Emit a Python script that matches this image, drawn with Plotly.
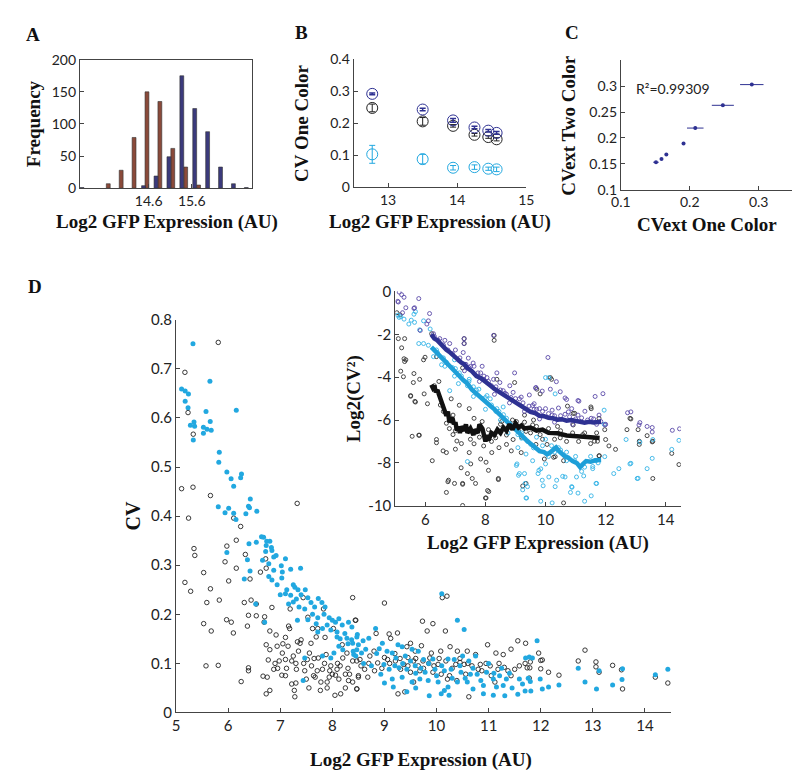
import plotly.graph_objects as go

# ---------------- Panel A: histogram (bin centres, counts) ----------------
A_brown_x = [13.66, 13.96, 14.26, 14.56, 14.86, 15.16, 15.46, 15.76]
A_brown_n = [7, 28, 79, 150, 135, 62, 33, 5]
A_blue_x = [13.05, 14.48, 14.77, 15.07, 15.37, 15.67, 15.97, 16.27, 16.57, 16.87]
A_blue_n = [1, 4, 19, 49, 175, 124, 88, 33, 7, 1]

# ---------------- Panel B: CV one color ----------------
B_x = [12.77, 13.50, 13.94, 14.25, 14.45, 14.57]
B_blue = [0.292, 0.243, 0.209, 0.187, 0.177, 0.170]
B_blue_err = [0.003, 0.004, 0.006, 0.004, 0.004, 0.004]
B_black = [0.248, 0.206, 0.192, 0.164, 0.157, 0.150]
B_black_err = [0.012, 0.012, 0.004, 0.004, 0.004, 0.005]
B_cyan = [0.103, 0.088, 0.061, 0.063, 0.058, 0.056]
B_cyan_err = [0.028, 0.015, 0.007, 0.007, 0.005, 0.007]

# ---------------- Panel C: CVext two color vs one color ----------------
C_x = [0.151, 0.159, 0.166, 0.191, 0.208, 0.248, 0.290]
C_y = [0.153, 0.159, 0.168, 0.189, 0.219, 0.263, 0.303]
C_xerr = [0.004, 0.002, 0.001, 0.001, 0.012, 0.016, 0.017]
C_yerr = [0.002, 0.001, 0.001, 0.001, 0.003, 0.003, 0.001]

# ---------------- Panel D main: CV vs expression ----------------
D_cyan = [
    (5.325, 0.751), (5.65, 0.675), (5.106, 0.659), (5.175, 0.655), (5.238, 0.649), (5.175, 0.634),
    (5.23, 0.621), (6.156, 0.616), (5.575, 0.613), (5.344, 0.592), (5.656, 0.593), (5.275, 0.585),
    (5.356, 0.583), (5.525, 0.581), (5.594, 0.577), (5.675, 0.575), (5.525, 0.569), (5.331, 0.555),
    (5.83, 0.530), (5.82, 0.510), (5.975, 0.490), (6.056, 0.476), (6.256, 0.486), (6.24, 0.478),
    (6.106, 0.461), (6.425, 0.435), (5.81, 0.419), (6.01, 0.416), (6.39, 0.420), (6.41, 0.417),
    (6.55, 0.410), (5.94, 0.407), (6.106, 0.406), (6.34, 0.405), (6.15, 0.393), (6.64, 0.358),
    (6.68, 0.357), (6.74, 0.349), (6.80, 0.349), (6.54, 0.347), (6.40, 0.344), (6.73, 0.340),
    (6.83, 0.336), (5.975, 0.326),
    (6.31, 0.272), (6.42, 0.288), (6.37, 0.311), (6.66, 0.310), (6.72, 0.328), (6.84, 0.330),
    (6.875, 0.317), (6.92, 0.320), (6.78, 0.303), (6.875, 0.290), (7.02, 0.299), (7.10, 0.313),
    (6.78, 0.277), (6.84, 0.270), (6.94, 0.260), (7.03, 0.274), (7.04, 0.286), (7.20, 0.292),
    (7.39, 0.294), (7.125, 0.250), (7.25, 0.260), (7.28, 0.255), (7.34, 0.250), (7.20, 0.239),
    (7.00, 0.240), (7.10, 0.242), (7.25, 0.225), (7.31, 0.231), (7.40, 0.240), (7.48, 0.250),
    (7.53, 0.234), (7.59, 0.224), (7.66, 0.215), (7.73, 0.232), (7.80, 0.224), (7.86, 0.215),
    (7.36, 0.215), (7.47, 0.211), (7.62, 0.200), (7.72, 0.193), (7.84, 0.200), (7.94, 0.193),
    (8.00, 0.188), (8.06, 0.184), (8.125, 0.191), (8.19, 0.178), (7.90, 0.178), (7.81, 0.171),
    (7.97, 0.168), (8.09, 0.164), (8.24, 0.161), (8.31, 0.184), (8.375, 0.174), (8.47, 0.154),
    (8.28, 0.151), (8.39, 0.141), (8.50, 0.138), (8.125, 0.135), (7.33, 0.188), (7.53, 0.189),
    (7.69, 0.181), (8.09, 0.154), (8.20, 0.128), (8.40, 0.125), (8.03, 0.121), (7.81, 0.115),
    (7.97, 0.111), (7.47, 0.111), (7.44, 0.065), (6.53, 0.221), (6.70, 0.184), (7.16, 0.221),
    (7.72, 0.164),
    (10.1, 0.242), (10.4, 0.188), (10.53, 0.169), (11.93, 0.146), (8.83, 0.171), (8.48, 0.159),
    (8.37, 0.148), (8.59, 0.146), (8.70, 0.151), (8.96, 0.141), (8.47, 0.128), (8.64, 0.129),
    (8.41, 0.118), (8.56, 0.121), (9.26, 0.138), (9.34, 0.134), (9.53, 0.129), (9.65, 0.125),
    (9.15, 0.121), (9.22, 0.111), (9.40, 0.115), (9.75, 0.108), (9.93, 0.109), (10.22, 0.109),
    (10.34, 0.108), (10.50, 0.115), (10.62, 0.105), (10.75, 0.115), (8.99, 0.098), (9.09, 0.088),
    (8.93, 0.078), (9.28, 0.091), (9.43, 0.088), (9.59, 0.095), (9.78, 0.082), (9.97, 0.088),
    (10.15, 0.085), (10.28, 0.088), (10.47, 0.082), (10.65, 0.078), (10.78, 0.078), (10.96, 0.082),
    (11.09, 0.068), (11.21, 0.075), (11.34, 0.068), (9.15, 0.068), (9.34, 0.072), (9.53, 0.062),
    (9.68, 0.068), (9.84, 0.065), (10.03, 0.062), (10.22, 0.052), (10.40, 0.062), (10.59, 0.062),
    (10.90, 0.055), (11.15, 0.052), (11.28, 0.055), (11.65, 0.058), (11.76, 0.070), (11.59, 0.068),
    (11.84, 0.111), (11.71, 0.111), (11.99, 0.068), (12.03, 0.048), (9.17, 0.052), (9.43, 0.042),
    (9.86, 0.034), (10.09, 0.038), (10.24, 0.035), (10.90, 0.038), (11.09, 0.035), (11.31, 0.034),
    (11.56, 0.037), (11.81, 0.044),
    (11.78, 0.113), (11.80, 0.063), (11.70, 0.044), (12.15, 0.052), (12.35, 0.056), (12.72, 0.090),
    (12.85, 0.062), (13.07, 0.048), (13.12, 0.085), (13.38, 0.056), (13.57, 0.089), (13.56, 0.067),
    (14.20, 0.077), (14.44, 0.088),
    (8.60, 0.100), (8.75, 0.095), (8.85, 0.120), (9.05, 0.125), (9.20, 0.095), (9.35, 0.100),
    (9.50, 0.105), (9.60, 0.080), (9.70, 0.090), (9.85, 0.100), (10.00, 0.075), (10.10, 0.095),
    (10.30, 0.070), (10.45, 0.095), (10.55, 0.070), (10.70, 0.090), (10.85, 0.065), (11.00, 0.100),
    (11.10, 0.080), (11.25, 0.090), (11.40, 0.080), (9.00, 0.060), (9.60, 0.050), (10.15, 0.045),
    (10.70, 0.048), (11.45, 0.050), (8.90, 0.130), (8.30, 0.140), (8.45, 0.115), (8.15, 0.150),
]

D_black = [
    (5.81, 0.754), (5.17, 0.693), (5.23, 0.611), (5.33, 0.567), (5.106, 0.456), (5.325, 0.459),
    (5.66, 0.442), (7.325, 0.426), (5.24, 0.396), (6.106, 0.396), (6.24, 0.379), (6.156, 0.351),
    (5.344, 0.334), (5.975, 0.339),
    (5.36, 0.320), (5.17, 0.265), (5.28, 0.247), (5.53, 0.285), (5.66, 0.252), (5.59, 0.224),
    (5.83, 0.229), (5.53, 0.181), (5.675, 0.166), (5.575, 0.095), (5.81, 0.096), (5.94, 0.307),
    (6.01, 0.268), (6.156, 0.294), (5.97, 0.189), (6.06, 0.184), (6.10, 0.162), (6.25, 0.063),
    (6.31, 0.224), (6.39, 0.198), (6.37, 0.176), (6.44, 0.229), (6.33, 0.322), (6.42, 0.272),
    (6.39, 0.091), (6.39, 0.085), (6.54, 0.221), (6.54, 0.197), (6.62, 0.286), (6.72, 0.313),
    (6.73, 0.294), (6.69, 0.184), (6.70, 0.195), (6.80, 0.166), (6.84, 0.214), (6.73, 0.138),
    (6.80, 0.128), (6.77, 0.107), (6.67, 0.074), (6.75, 0.072), (6.73, 0.038), (6.80, 0.045),
    (6.875, 0.088), (6.92, 0.158), (6.94, 0.135), (6.98, 0.105), (7.04, 0.121), (7.03, 0.076),
    (7.10, 0.153), (7.10, 0.108), (7.16, 0.176), (7.18, 0.171), (7.19, 0.211), (7.22, 0.105),
    (7.25, 0.115), (7.28, 0.032), (7.27, 0.045), (7.22, 0.058), (7.31, 0.088), (7.33, 0.144),
    (7.38, 0.141), (7.40, 0.148), (7.44, 0.234), (7.47, 0.085), (7.50, 0.068), (7.52, 0.108),
    (7.53, 0.194), (7.56, 0.121), (7.59, 0.141), (7.62, 0.171), (7.64, 0.075), (7.67, 0.072),
    (7.69, 0.154), (7.71, 0.085), (7.73, 0.111), (7.77, 0.045), (7.78, 0.062), (7.81, 0.088),
    (7.83, 0.211), (7.86, 0.153), (7.88, 0.118), (7.90, 0.062), (7.94, 0.072), (7.97, 0.095),
    (8.02, 0.171), (8.05, 0.035), (8.06, 0.076), (8.09, 0.088), (8.125, 0.068), (8.16, 0.038),
    (8.20, 0.111), (8.25, 0.078), (8.28, 0.121), (8.31, 0.065), (8.33, 0.078), (8.39, 0.234),
    (8.44, 0.188), (8.47, 0.048), (8.50, 0.072), (8.39, 0.105), (8.47, 0.105), (8.19, 0.138),
    (7.72, 0.171), (7.12, 0.090), (7.30, 0.100), (7.15, 0.135), (6.95, 0.090), (7.60, 0.095),
    (7.95, 0.085), (8.10, 0.100),
    (9.00, 0.223), (9.73, 0.186), (9.93, 0.181), (9.82, 0.166), (10.17, 0.166),
    (10.11, 0.234), (10.20, 0.237), (8.45, 0.188), (8.84, 0.161), (9.09, 0.160), (9.25, 0.162),
    (9.12, 0.151), (9.50, 0.141), (9.43, 0.134), (9.59, 0.125), (9.71, 0.136), (9.90, 0.121),
    (10.08, 0.125), (10.26, 0.134), (10.40, 0.125), (10.59, 0.125), (10.75, 0.118), (10.98, 0.138),
    (11.14, 0.121), (11.28, 0.118), (11.56, 0.146), (11.71, 0.141), (11.96, 0.121), (12.03, 0.107),
    (11.43, 0.129), (8.53, 0.108), (8.72, 0.115), (8.87, 0.101), (9.06, 0.108), (9.21, 0.105),
    (9.37, 0.098), (9.56, 0.105), (9.74, 0.105), (9.87, 0.111), (10.03, 0.098), (10.18, 0.105),
    (10.37, 0.098), (10.53, 0.098), (10.68, 0.095), (10.84, 0.098), (11.03, 0.095), (11.18, 0.088),
    (11.37, 0.085), (11.59, 0.095), (11.74, 0.091), (8.62, 0.088), (8.81, 0.085), (9.31, 0.088),
    (9.50, 0.082), (9.68, 0.085), (9.93, 0.082), (10.09, 0.078), (10.25, 0.075), (10.56, 0.078),
    (10.87, 0.085), (11.43, 0.075), (8.50, 0.075), (8.68, 0.072), (8.47, 0.048), (9.56, 0.062),
    (10.21, 0.068), (10.39, 0.065), (11.12, 0.062), (9.26, 0.038), (9.39, 0.042), (10.62, 0.032),
    (8.39, 0.062), (9.00, 0.112), (9.45, 0.112), (9.65, 0.095), (10.45, 0.102),
    (12.00, 0.106), (12.00, 0.089), (12.15, 0.082), (12.35, 0.076), (12.72, 0.105), (12.85, 0.127),
    (13.06, 0.103), (13.06, 0.093), (13.12, 0.082), (13.38, 0.096), (13.55, 0.087), (13.57, 0.048),
    (14.20, 0.072), (14.44, 0.060), (11.80, 0.103), (11.70, 0.100), (11.79, 0.091), (11.78, 0.070),
    (8.55, 0.095), (8.70, 0.100), (8.80, 0.125), (8.95, 0.090), (9.10, 0.100), (9.20, 0.120),
    (9.30, 0.110), (9.45, 0.095), (9.60, 0.110), (9.75, 0.090), (9.85, 0.100), (9.95, 0.095),
    (10.05, 0.110), (10.30, 0.090), (10.45, 0.110), (10.60, 0.100), (10.80, 0.088), (10.95, 0.100),
    (11.05, 0.075), (11.20, 0.100), (11.30, 0.092), (11.50, 0.088), (7.35, 0.125), (7.45, 0.100),
    (7.65, 0.110), (7.85, 0.100), (8.00, 0.078), (8.15, 0.095), (8.30, 0.090), (7.10, 0.075),
    (7.30, 0.060), (7.55, 0.050), (7.90, 0.050), (8.25, 0.050), (6.90, 0.100), (7.05, 0.140),
]

# ---------------- Panel D inset: log2(CV^2) ----------------
I_blue = [
    (5.13, -0.03), (5.21, -0.15), (5.29, -0.27), (5.10, -0.49), (5.35, -0.76), (5.24, -0.99),
    (5.78, -0.33), (5.64, -0.76), (6.14, -1.03), (6.05, -1.52), (5.83, -1.82), (6.27, -1.97),
    (6.48, -2.20), (6.65, -2.28), (6.81, -2.43), (7.29, -2.20), (7.29, -2.43), (7.00, -2.73),
    (7.26, -2.85), (7.43, -3.11), (7.59, -3.34), (7.89, -3.49), (7.84, -3.80), (7.94, -4.10),
    (8.38, -3.80), (8.27, -4.10), (8.97, -3.80), (8.81, -4.40), (8.59, -4.63), (9.19, -4.93),
    (9.46, -4.83), (9.68, -4.48), (9.62, -5.24), (9.80, -5.47), (8.27, -2.05), (5.08, -0.46),
    (5.62, -0.79), (6.10, -1.37), (8.92, -4.71), (8.48, -4.25), (8.05, -4.02), (7.62, -3.49),
    (6.75, -2.73), (6.43, -2.28), (9.13, -5.01), (9.57, -5.32), (10.0, -5.47), (7.10, -3.20),
    (7.45, -3.55), (8.20, -4.40), (8.70, -4.80),
    (10.08, -3.08), (10.36, -4.21), (9.67, -4.51), (9.89, -4.65), (10.16, -4.56), (10.49, -4.68),
    (10.70, -5.04), (11.11, -5.12), (11.65, -4.90), (11.91, -4.77), (9.62, -5.50), (10.22, -5.54),
    (10.76, -5.62), (11.31, -5.59), (11.78, -5.77), (12.73, -5.66), (12.84, -5.62), (13.14, -6.12),
    (13.11, -6.23), (13.38, -6.30), (13.55, -6.35), (13.55, -6.56), (14.22, -6.48), (14.46, -6.41),
    (12.00, -6.20), (10.43, -5.44), (10.87, -5.47), (10.22, -5.77), (10.65, -5.73), (11.08, -5.77),
    (11.52, -5.92), (11.84, -6.07), (11.98, -6.23), (10.65, -4.97), (11.08, -5.09),
    (6.30, -2.10), (6.60, -2.50), (6.90, -2.90), (7.15, -3.10), (7.35, -3.40), (7.50, -3.50),
    (7.75, -3.80), (7.95, -3.95), (8.10, -4.20), (8.35, -4.45), (8.50, -4.60), (8.65, -4.75),
    (8.85, -4.95), (9.00, -5.00), (9.25, -5.20), (9.45, -5.35), (9.70, -5.50), (9.90, -5.60),
    (10.10, -5.70), (10.30, -5.80), (10.50, -5.80), (10.80, -5.85), (11.00, -5.95), (11.20, -5.90),
    (11.40, -6.00), (11.60, -5.95), (11.70, -6.20), (10.90, -6.20), (10.30, -6.10), (9.80, -5.95),
    (9.30, -5.60), (8.80, -5.20), (8.30, -4.80), (7.80, -4.20), (7.30, -3.70),
]

I_cyan = [
    (5.08, -1.11), (5.18, -1.17), (5.29, -1.29), (5.53, -1.34), (5.64, -1.44), (5.45, -1.52),
    (5.81, -1.79), (5.94, -2.43), (6.10, -2.51), (6.37, -2.73), (6.97, -3.19), (6.65, -3.49),
    (7.13, -3.80), (7.46, -4.10), (7.78, -4.56), (8.16, -5.01), (8.38, -5.47), (8.70, -5.92),
    (8.75, -6.61), (9.08, -6.68), (9.10, -8.58), (9.03, -8.12), (9.30, -8.50), (9.32, -8.96),
    (9.40, -9.11), (9.37, -9.64), (7.40, -7.94), (9.84, -8.28), (6.81, -4.63), (9.51, -7.14),
    (5.67, -0.94), (5.13, -1.21), (5.62, -1.06), (5.94, -1.37), (6.16, -1.75), (5.78, -2.43),
    (6.27, -3.04), (6.97, -3.95), (6.54, -3.42), (7.40, -4.40), (8.05, -4.86), (8.59, -5.39),
    (9.08, -7.29), (9.05, -8.05), (9.13, -8.50), (9.24, -9.26), (9.35, -9.64), (9.84, -9.79),
    (10.22, -9.87), (9.89, -8.81), (10.11, -8.66), (10.32, -9.11), (10.65, -8.66), (10.87, -9.11),
    (11.08, -9.41), (11.30, -9.79), (11.52, -9.54), (11.68, -8.96), (10.00, -4.02), (10.11, -4.02),
    (11.95, -5.54), (11.97, -7.71), (12.27, -8.50), (12.44, -8.27), (12.81, -8.05), (13.05, -8.73),
    (13.38, -8.27), (13.55, -7.79), (13.57, -6.91), (14.20, -7.37), (14.44, -6.95), (12.68, -6.91),
    (11.95, -6.20), (10.43, -7.29), (10.97, -7.90), (9.57, -7.90), (9.78, -8.35), (10.00, -8.05),
    (9.35, -7.59), (11.30, -8.20), (11.57, -8.27), (10.32, -4.78), (13.14, -7.03), (12.84, -8.02),
    (13.08, -8.72), (11.70, -8.96), (10.88, -9.14), (10.83, -9.38), (9.92, -9.07), (10.37, -8.81),
    (10.57, -8.63), (11.03, -8.66), (11.27, -8.61), (9.75, -8.50), (11.57, -8.17), (11.68, -7.90),
    (6.60, -3.10), (7.00, -3.60), (7.60, -4.45), (8.00, -4.95), (8.45, -5.60), (8.90, -6.30),
    (9.20, -6.60), (9.60, -7.30), (10.20, -7.20), (10.70, -7.50),
    (6.40, -2.85), (6.70, -3.30), (6.90, -3.55), (7.20, -3.95), (7.45, -4.20), (7.70, -4.60),
    (7.90, -5.00), (8.20, -5.30), (8.35, -5.60), (8.60, -5.75), (8.80, -6.15), (9.00, -6.40),
    (9.20, -6.85), (9.40, -7.00), (9.60, -7.20), (9.90, -7.20), (10.10, -7.70), (10.30, -7.50),
    (10.50, -7.40), (10.70, -7.90), (11.00, -7.70), (11.20, -8.40), (11.50, -7.70), (11.75, -8.00),
    (10.00, -6.90), (9.70, -6.80), (8.50, -6.00), (8.00, -5.50), (7.60, -4.90), (7.10, -4.30),
]

I_black = [
    (5.05, -0.99), (5.16, -1.09), (5.10, -2.20), (5.31, -2.20), (5.21, -2.63), (5.29, -3.14),
    (5.31, -3.27), (5.18, -3.72), (5.27, -3.98), (5.51, -4.89), (5.65, -5.13), (5.78, -6.71),
    (5.56, -6.76), (5.60, -4.25), (5.62, -3.83), (5.81, -4.10), (5.96, -4.78), (6.07, -5.24),
    (5.94, -3.19), (5.99, -3.07), (6.21, -1.97), (6.37, -3.04), (6.23, -7.90), (6.37, -6.91),
    (6.37, -7.06), (6.59, -7.44), (6.70, -7.52), (6.77, -8.81), (6.70, -9.38), (6.92, -6.68),
    (7.05, -6.98), (7.00, -7.36), (7.19, -8.23), (7.24, -8.96), (7.40, -8.50), (7.46, -7.52),
    (7.51, -8.05), (7.56, -8.73), (7.67, -8.96), (7.62, -7.11), (7.84, -7.82), (7.94, -7.21),
    (8.02, -7.97), (8.10, -8.35), (8.07, -9.29), (8.02, -9.64), (8.21, -7.52), (8.43, -8.73),
    (8.34, -6.83), (8.45, -7.29), (8.70, -7.14), (8.86, -7.44), (8.92, -6.91), (7.24, -9.99),
    (6.70, -6.15), (6.92, -5.77), (7.13, -5.31), (6.86, -5.01), (7.46, -5.47), (7.62, -5.92),
    (7.89, -6.07), (8.10, -6.45), (7.24, -3.57), (8.38, -4.10), (8.54, -6.07), (9.03, -6.07),
    (9.30, -5.77), (9.57, -6.23), (9.71, -4.56), (9.68, -7.14), (9.19, -7.52), (9.35, -6.53),
    (9.82, -6.68), (5.35, -3.19), (5.51, -4.86), (5.67, -5.16), (5.80, -6.71), (6.75, -8.88),
    (6.97, -8.96), (7.24, -9.00), (8.00, -9.64), (8.11, -9.34), (8.43, -8.78), (9.24, -9.08),
    (9.35, -8.96), (10.60, -9.87), (10.32, -7.71), (10.16, -4.02), (10.20, -4.10), (8.97, -4.25),
    (8.29, -2.05), (8.29, -2.28), (7.29, -2.20), (7.29, -2.43), (10.97, -5.69), (11.52, -5.47),
    (11.73, -6.99), (11.79, -7.67), (11.97, -6.45), (12.00, -6.91), (12.11, -7.21), (12.33, -7.37),
    (12.71, -6.45), (12.81, -5.92), (13.08, -6.45), (13.12, -7.14), (13.12, -6.99), (13.57, -6.99),
    (13.57, -8.73), (14.20, -7.56), (14.44, -8.08), (9.82, -4.78), (10.73, -5.35), (10.92, -5.69),
    (11.51, -5.39), (11.78, -5.92), (12.84, -5.95), (13.38, -6.73), (13.55, -7.02), (10.92, -6.23),
    (11.24, -6.68), (11.63, -6.99), (10.49, -6.83), (10.05, -7.14), (10.27, -7.74), (9.96, -7.82),
    (10.60, -7.90), (11.78, -7.67),
    (8.50, -6.20), (8.70, -6.70), (8.90, -6.00), (9.10, -6.50), (9.30, -6.10), (9.50, -6.60),
    (9.70, -6.30), (9.90, -6.90), (10.10, -6.40), (10.30, -6.90), (10.50, -6.50), (10.70, -7.00),
    (10.90, -6.60), (11.10, -7.00), (11.30, -6.60), (11.50, -7.10), (11.70, -6.60), (8.20, -7.00),
    (7.80, -6.80), (7.50, -6.90), (7.20, -7.10), (7.00, -6.50), (6.80, -6.40), (6.60, -5.60),
    (6.50, -5.30), (6.30, -4.40), (6.45, -4.20), (9.20, -6.80), (9.60, -6.00), (10.40, -6.30),
]

L_blue_x = [6.2, 6.3, 6.4, 6.5, 6.6, 6.7, 6.8, 6.95, 7.1, 7.2, 7.3, 7.4, 7.55, 7.7, 7.85, 8.0, 8.15,
            8.3, 8.45, 8.6, 8.75, 8.9, 9.05, 9.2, 9.35, 9.5, 9.65, 9.8, 9.95, 10.1, 10.25, 10.4,
            10.55, 10.7, 10.85, 11.0, 11.15, 11.3, 11.45, 11.6, 11.85]
L_blue_y = [-2.0, -2.2, -2.28, -2.45, -2.55, -2.72, -2.82, -3.02, -3.15, -3.32, -3.4, -3.58, -3.72,
            -3.95, -4.05, -4.25, -4.38, -4.55, -4.68, -4.85, -4.95, -5.12, -5.2, -5.38, -5.45,
            -5.62, -5.68, -5.8, -5.82, -5.9, -5.92, -5.98, -5.96, -6.03, -6.0, -6.06, -6.08, -6.12,
            -6.08, -6.12, -6.08]
L_cyan_x = [6.2, 6.3, 6.4, 6.5, 6.65, 6.8, 6.95, 7.1, 7.25, 7.4, 7.55, 7.7, 7.85, 8.0, 8.15, 8.3,
            8.45, 8.6, 8.75, 8.9, 9.05, 9.2, 9.35, 9.5, 9.65, 9.8, 9.95, 10.05, 10.15, 10.25, 10.35,
            10.45, 10.55, 10.65, 10.75, 10.9, 11.05, 11.15, 11.25, 11.35, 11.5, 11.65, 11.85]
L_cyan_y = [-2.6, -2.75, -2.9, -3.05, -3.3, -3.5, -3.72, -3.9, -4.12, -4.3, -4.58, -4.75, -4.98, -5.15,
            -5.32, -5.5, -5.72, -5.9, -6.12, -6.3, -6.52, -6.7, -6.92, -7.1, -7.3, -7.45, -7.5,
            -7.6, -7.52, -7.38, -7.28, -7.45, -7.58, -7.7, -7.75, -7.92, -8.02, -8.2, -8.05, -7.92,
            -7.95, -7.88, -7.87]
L_black_x = [6.2, 6.25, 6.3, 6.35, 6.4, 6.5, 6.6, 6.7, 6.75, 6.8, 6.9, 6.95, 7.0, 7.05, 7.1, 7.15,
             7.2, 7.3, 7.35, 7.4, 7.5, 7.6, 7.65, 7.75, 7.8, 7.9, 8.0, 8.05, 8.1, 8.2, 8.3, 8.4,
             8.5, 8.6, 8.7, 8.8, 8.9, 9.0, 9.1, 9.2, 9.3, 9.5, 9.7, 9.9, 10.1, 10.4, 10.7, 11.0,
             11.3, 11.6, 11.8]
L_black_y = [-4.35, -4.5, -4.4, -4.7, -4.6, -5.0, -5.3, -5.8, -5.6, -6.1, -5.9, -6.2, -6.1, -6.5,
             -6.3, -6.6, -6.3, -6.5, -6.2, -6.6, -6.4, -6.7, -6.45, -6.6, -6.2, -6.4, -7.0, -6.7,
             -6.95, -6.6, -6.7, -6.45, -6.6, -6.35, -6.5, -6.2, -6.45, -6.15, -6.35, -6.25, -6.4,
             -6.35, -6.5, -6.45, -6.6, -6.62, -6.72, -6.76, -6.83, -6.82, -6.84]

# ---------------- colours ----------------
BROWN = '#8a4a3a'
NAVY = '#3b3a7c'
CYAN = '#22a8e0'
DBLUE = '#2e3192'
PURPLE = '#5a4aa8'
BLACK = '#222222'

W, H = 800, 775


def xd(a, b):
    return [a / W, b / W]


def yd(top, bottom):
    return [1 - bottom / H, 1 - top / H]


def xs(pts):
    return [p[0] for p in pts]


def ys(pts):
    return [p[1] for p in pts]


fig = go.Figure()

# Panel A
fig.add_trace(go.Bar(x=A_brown_x, y=A_brown_n, width=0.09,
                     marker=dict(color=BROWN, line=dict(color='#333', width=0.6)), xaxis='x', yaxis='y'))
fig.add_trace(go.Bar(x=A_blue_x, y=A_blue_n, width=0.09,
                     marker=dict(color=NAVY, line=dict(color='#333', width=0.6)), xaxis='x', yaxis='y'))

# Panel B
fig.add_trace(go.Scatter(x=B_x, y=B_black, mode='markers', xaxis='x2', yaxis='y2',
                         marker=dict(symbol='circle-open', size=11, color=BLACK, line=dict(width=1)),
                         error_y=dict(type='data', array=B_black_err, color=BLACK, thickness=1, width=3)))
fig.add_trace(go.Scatter(x=B_x, y=B_blue, mode='markers', xaxis='x2', yaxis='y2',
                         marker=dict(symbol='circle-open', size=11, color=DBLUE, line=dict(width=1)),
                         error_y=dict(type='data', array=B_blue_err, color=DBLUE, thickness=1.5, width=3)))
fig.add_trace(go.Scatter(x=B_x, y=B_cyan, mode='markers', xaxis='x2', yaxis='y2',
                         marker=dict(symbol='circle-open', size=11, color=CYAN, line=dict(width=1)),
                         error_y=dict(type='data', array=B_cyan_err, color=CYAN, thickness=1, width=3)))

# Panel C
fig.add_trace(go.Scatter(x=C_x, y=C_y, mode='markers', xaxis='x3', yaxis='y3',
                         marker=dict(size=4, color=DBLUE),
                         error_x=dict(type='data', array=C_xerr, color=DBLUE, thickness=1, width=0),
                         error_y=dict(type='data', array=C_yerr, color=DBLUE, thickness=1, width=0)))

# Panel D main
fig.add_trace(go.Scatter(x=xs(D_black), y=ys(D_black), mode='markers', xaxis='x4', yaxis='y4',
                         marker=dict(symbol='circle-open', size=4.5, color=BLACK, line=dict(width=0.9))))
fig.add_trace(go.Scatter(x=xs(D_cyan), y=ys(D_cyan), mode='markers', xaxis='x4', yaxis='y4',
                         marker=dict(symbol='circle', size=5, color=CYAN)))

# Inset
fig.add_trace(go.Scatter(x=xs(I_black), y=ys(I_black), mode='markers', xaxis='x5', yaxis='y5',
                         marker=dict(symbol='circle-open', size=4, color='#333', line=dict(width=0.9))))
fig.add_trace(go.Scatter(x=xs(I_cyan), y=ys(I_cyan), mode='markers', xaxis='x5', yaxis='y5',
                         marker=dict(symbol='circle-open', size=4, color='#33b3e6', line=dict(width=0.9))))
fig.add_trace(go.Scatter(x=xs(I_blue), y=ys(I_blue), mode='markers', xaxis='x5', yaxis='y5',
                         marker=dict(symbol='circle-open', size=4, color=PURPLE, line=dict(width=0.9))))
fig.add_trace(go.Scatter(x=L_blue_x, y=L_blue_y, mode='lines', xaxis='x5', yaxis='y5',
                         line=dict(color=DBLUE, width=4.5)))
fig.add_trace(go.Scatter(x=L_cyan_x, y=L_cyan_y, mode='lines', xaxis='x5', yaxis='y5',
                         line=dict(color='#1e9fd8', width=4.5)))
fig.add_trace(go.Scatter(x=L_black_x, y=L_black_y, mode='lines', xaxis='x5', yaxis='y5',
                         line=dict(color='#111111', width=4.5)))

TICKF = dict(family='Lato, Open Sans, sans-serif', size=14, color='#222')
TICKF_D = dict(family='Lato, Open Sans, sans-serif', size=15, color='#222')


def ax(domain, rng, tickvals, ticktext, anchor, font=TICKF, mirror=False):
    return dict(domain=domain, range=rng, tickvals=tickvals, ticktext=ticktext, showline=True,
                linecolor='#444', linewidth=1, ticks='inside', ticklen=4, tickcolor='#444',
                showgrid=False, zeroline=False, tickfont=font, anchor=anchor, mirror=mirror,
                fixedrange=True)


def fmt(vals):
    return ['%g' % v for v in vals]


xA = [14.6, 15.6]
yA = [0, 50, 100, 150, 200]
xB = [13, 14, 15]
yB = [0, 0.1, 0.2, 0.3, 0.4]
xC = [0.1, 0.2, 0.3]
yC = [0.1, 0.15, 0.2, 0.25, 0.3]
xD = [5, 6, 7, 8, 9, 10, 11, 12, 13, 14]
yD = [0, 0.1, 0.2, 0.3, 0.4, 0.5, 0.6, 0.7, 0.8]
xI = [6, 8, 10, 12, 14]
yI = [-10, -8, -6, -4, -2, 0]

fig.update_layout(
    width=W, height=H, margin=dict(l=0, r=0, t=0, b=0),
    paper_bgcolor='white', plot_bgcolor='rgba(0,0,0,0)', showlegend=False, barmode='overlay',
    xaxis=ax(xd(63.3, 239.3), [13, 17], xA, fmt(xA), 'y', mirror=True),
    yaxis=ax(yd(42.7, 174.3), [0, 200], yA, fmt(yA), 'x', mirror=True),
    xaxis2=ax(xd(343.3, 520), [12.5, 15], xB, fmt(xB), 'y2'),
    yaxis2=ax(yd(42.3, 173.3), [0, 0.4], yB, fmt(yB), 'x2'),
    xaxis3=ax(xd(616.7, 793), [0.1, 0.35], xC, fmt(xC), 'y3'),
    yaxis3=ax(yd(43.3, 175.7), [0.1, 0.35], yC, fmt(yC), 'x3'),
    xaxis4=ax(xd(161.7, 668), [5, 14.5], xD, fmt(xD), 'y4', font=TICKF_D),
    yaxis4=ax(yd(309, 711), [0, 0.8], yD, fmt(yD), 'x4', font=TICKF_D),
    xaxis5=ax(xd(386, 678), [5, 14.5], xI, fmt(xI), 'y5', font=TICKF_D),
    yaxis5=ax(yd(280, 499.3), [-10, 0], yI, fmt(yI), 'x5', font=TICKF_D),
)

SERIF = 'Liberation Serif, Times New Roman, serif'
ann = []


def label(text, x, y, size=19, angle=0):
    ann.append(dict(text=text, x=x / W, y=1 - y / H, xref='paper', yref='paper', showarrow=False,
                    textangle=angle, xanchor='center', yanchor='middle',
                    font=dict(family=SERIF, size=size, color='#111', weight='bold')))


# panel letters
label('A', 15, 17, 19)
label('B', 290, 15, 19)
label('C', 567, 15, 19)
label('D', 17, 275, 19)
# Panel A titles
label('Frequency', 16, 108, 19, -90)
label('Log2 GFP Expression (AU)', 152, 209, 19)
# Panel B titles
label('CV One Color', 290, 108, 19, -90)
label('Log2 GFP Expression (AU)', 432, 209, 19)
# Panel C titles
label('CVext Two Color', 563, 110, 19, -90)
label('CVext One Color', 705, 211, 19)
# Panel D titles
label('CV', 118, 510, 20, -90)
label('Log2 GFP Expression (AU)', 412, 760, 19)
label('Log2(CV²)', 344, 390, 19, -90)
label('Log2 GFP Expression (AU)', 532, 537, 19)

ann.append(dict(text='R²=0.99309', x=670 / W, y=1 - 72 / H, xref='paper', yref='paper',
                showarrow=False, xanchor='center', yanchor='middle',
                font=dict(family='Lato, Open Sans, sans-serif', size=14, color='#222')))

fig.update_layout(annotations=ann)
fig.write_html('out.html')
